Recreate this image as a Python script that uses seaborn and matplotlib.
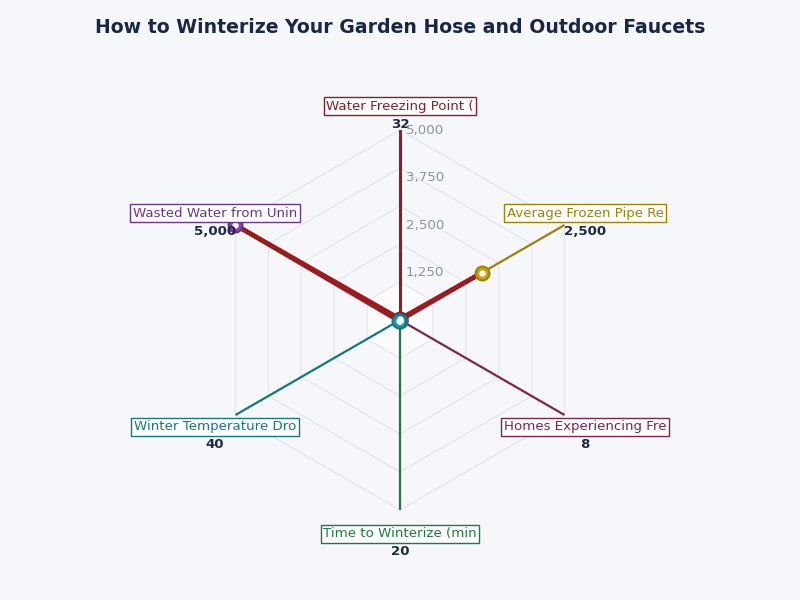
import numpy as np
import matplotlib
matplotlib.use("Agg")
import matplotlib.pyplot as plt
import seaborn as sns

# Daten aus dem Bild
labels = ["Water Freezing Point (", "Average Frozen Pipe Re", "Homes Experiencing Fre",
          "Time to Winterize (min", "Winter Temperature Dro", "Wasted Water from Unin"]
values = [32, 2500, 8, 20, 40, 5000]
value_text = ["32", "2,500", "8", "20", "40", "5,000"]
tick_values = [1250, 2500, 3750, 5000]
tick_labels = ["1,250", "2,500", "3,750", "5,000"]
ring_values = [1000, 2000, 3000, 4000, 5000]
r_max = 5000

colors = ["#8e1c22", "#9c8209", "#7d2352", "#1e7a3e", "#14787f", "#6c3391"]
marker_faces = ["#a8262c", "#c9a318", "#9a2f66", "#27954c", "#1f9aa3", "#8e44ad"]
bg = "#f5f7fb"

sns.set_theme(style="white")
plt.rcParams['font.family'] = ['DejaVu Sans']

fig = plt.figure(figsize=(8, 6), dpi=100, facecolor=bg)
ax = fig.add_axes([0.2625, 0.15, 0.475, 0.6333], projection="polar", facecolor=bg)
ax.set_theta_offset(np.pi / 2)
ax.set_theta_direction(-1)
ax.set_ylim(0, r_max)
ax.grid(False)
ax.set_xticks([])
ax.set_yticks([])
ax.spines["polar"].set_visible(False)

n = len(labels)
theta = np.linspace(0, 2 * np.pi, n, endpoint=False)
theta_closed = np.append(theta, 2 * np.pi)

# Sechseckige Gitterringe
for i, rv in enumerate(ring_values):
    ax.plot(theta_closed, [rv] * (n + 1), color="#e1e5ec", lw=0.8, zorder=1)
ax.fill(theta_closed, [ring_values[0]] * (n + 1), color="white", alpha=0.7, zorder=0.5, lw=0)

# farbige Speichen
for i in range(n):
    ax.plot([theta[i], theta[i]], [0, r_max], color=colors[i], lw=2.2 if i == 0 else 1.6, zorder=2)

# Datenpolygon
vals_closed = values + [values[0]]
ax.fill(theta_closed, vals_closed, color="#9b1b1f", alpha=0.06, zorder=2.5, lw=0)
sns.lineplot(x=theta_closed, y=vals_closed, ax=ax, sort=False, estimator=None,
             color="#9b1b1f", lw=3.2, zorder=3)

# Marker
for i in range(n):
    ax.plot(theta[i], values[i], "o", ms=10, mfc=marker_faces[i], mec=colors[i], mew=1.5,
            zorder=4, clip_on=False)
    ax.plot(theta[i], values[i], "o", ms=3.5, mfc="white", mec="white", zorder=5, clip_on=False)

# Achsenbeschriftungen
for i in range(n):
    ax.annotate(labels[i], xy=(theta[i], r_max * 1.125), ha="center", va="center",
                fontsize=9.6, color=colors[i], zorder=6, annotation_clip=False,
                bbox=dict(boxstyle="square,pad=0.2", fc="white", ec=colors[i], lw=1))
    ax.annotate(value_text[i], xy=(theta[i], r_max * 1.125), xytext=(0, -13),
                textcoords="offset points", ha="center", va="center", fontsize=9.6,
                fontweight="bold", color="#1f2a44", zorder=6, annotation_clip=False)

# Radiale Tick Labels
for tv, tl in zip(tick_values, tick_labels):
    ax.annotate(tl, xy=(0, tv), xytext=(4, 0), textcoords="offset points",
                ha="left", va="center", fontsize=9.6, color="#8a94a6", zorder=6)

fig.suptitle("How to Winterize Your Garden Hose and Outdoor Faucets", y=0.97,
             fontsize=13.6, fontweight="bold", color="#1a2744")

fig.savefig("out.png", dpi=100, facecolor=bg)
